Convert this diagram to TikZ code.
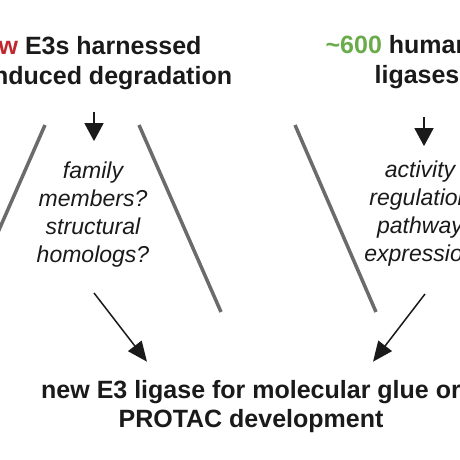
\documentclass[tikz,border=0pt]{standalone}
\usepackage{fontspec}
\setmainfont{Liberation Sans}
\usetikzlibrary{arrows.meta,positioning}
\definecolor{fewred}{HTML}{C1272D}
\definecolor{numgreen}{HTML}{6AAB4C}
\definecolor{bargray}{HTML}{6B6B6B}
\definecolor{inkblack}{HTML}{1A1A1A}
\begin{document}
\begin{tikzpicture}[x=1pt,y=-1pt,
		title/.style={inner sep=0pt,align=center,anchor=base,text=inkblack,
			font=\bfseries\fontsize{25}{29}\selectfont},
		question/.style={inner sep=0pt,align=center,anchor=base,text=inkblack,
			font=\itshape\fontsize{23}{28}\selectfont},
		bar/.style={draw=bargray,line width=3.5pt},
		downarr/.style={-{Triangle[length=18pt,width=19pt]},line width=1.5pt,draw=inkblack},
		diagarr/.style={-{Triangle[length=20pt,width=17pt]},line width=1.5pt,draw=inkblack}]
		\fill[white] (0,0) rectangle (460,460);
		\useasboundingbox (0,0) rectangle (460,460);
		% headings (base = last line)
		\node[title] (few) at (89,84) {\textcolor{fewred}{few} E3s harnessed\\for induced degradation};
		\node[title] (human) at (417,83) {\textcolor{numgreen}{\textasciitilde600} human E3\\ligases};
		% open questions
		\node[question] (famq) at (93,262) {family\\members?\\structural\\homologs?};
		\node[question] (actq) at (420,261) {activity\\regulation\\pathway\\expression};
		\node[title] (glue) at (251,427) {new E3 ligase for molecular glue or\\PROTAC development};
		% brackets
		\draw[bar] (45,125) -- (-37,312);
		\draw[bar] (139,125) -- (221,312);
		\draw[bar] (295,125) -- (376,312);
		% arrows
		\draw[downarr] ([xshift=1pt,yshift=-23pt]few.south -| famq.north) -- ([xshift=1pt,yshift=20pt]famq.north);
		\draw[downarr] ([xshift=4pt,yshift=-29pt]human.south -| actq.north) -- ([xshift=4pt,yshift=14pt]actq.north);
		\draw[diagarr] ([xshift=1pt,yshift=-26pt]famq.south) -- ([xshift=-104pt,yshift=18pt]glue.north);
		\draw[diagarr] ([xshift=5pt,yshift=-28pt]actq.south) -- ([xshift=122pt,yshift=18pt]glue.north);
	\end{tikzpicture}
\end{document}
